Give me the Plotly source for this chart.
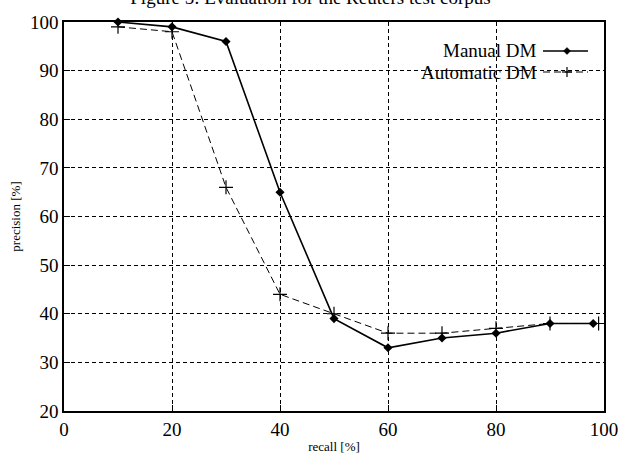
import plotly.graph_objects as go

recall_manual = [10, 20, 30, 40, 50, 60, 70, 80, 90, 98]
precision_manual = [100, 99, 96, 65, 39, 33, 35, 36, 38, 38]
recall_auto = [10, 20, 30, 40, 50, 60, 70, 80, 90, 99]
precision_auto = [99, 98, 66, 44, 40, 36, 36, 37, 38, 38]
series_names = ["Manual DM", "Automatic DM"]
x_ticks = [0, 20, 40, 60, 80, 100]
y_ticks = [20, 30, 40, 50, 60, 70, 80, 90, 100]
title_text = "Figure 5: Evaluation for the Reuters test corpus"

FONT = "Liberation Serif, Times New Roman, serif"

fig = go.Figure()
fig.add_trace(go.Scatter(
    x=recall_manual, y=precision_manual, mode="lines+markers", name=series_names[0],
    line=dict(color="black", width=1.6),
    marker=dict(symbol="diamond", size=7, color="black"),
    showlegend=False, cliponaxis=False))
fig.add_trace(go.Scatter(
    x=recall_auto, y=precision_auto, mode="lines+markers", name=series_names[1],
    line=dict(color="black", width=1, dash="7px,4px"),
    marker=dict(symbol="cross-thin-open", size=10, line=dict(color="black", width=1.2)),
    showlegend=False, cliponaxis=False))

axis_common = dict(
    showline=True, linecolor="black", linewidth=1.5, mirror=True,
    showgrid=True, gridcolor="black", gridwidth=1.3, griddash="4px,3px",
    ticks="inside", ticklen=6, tickcolor="black", zeroline=False, automargin=False,
    tickfont=dict(family=FONT, size=19, color="black"),
)
fig.update_xaxes(range=[0, 100], tickvals=x_ticks, **axis_common,
                 title=dict(text="recall [%]", font=dict(family=FONT, size=13, color="black"), standoff=3))
fig.update_yaxes(range=[20, 100], tickvals=y_ticks, **axis_common,
                 title=dict(text="precision [%]", font=dict(family=FONT, size=13, color="black"), standoff=6))

# custom gnuplot-style legend (text right, sample to the right)
px_w, px_h = 540.0, 389.0
def px_x(p):
    return (p - 64) / px_w
def px_y(p):
    return (411 - p) / px_h

rows = [(51, series_names[0], "solid"), (72, series_names[1], "dash")]
shapes = []
annotations = []
for yy, name, style in rows:
    annotations.append(dict(xref="paper", yref="paper", x=px_x(539), y=px_y(yy),
                            xanchor="right", yanchor="middle", text=name, showarrow=False,
                            font=dict(family=FONT, size=19, color="black")))
    shapes.append(dict(type="line", xref="paper", yref="paper",
                       x0=px_x(543), x1=px_x(588), y0=px_y(yy), y1=px_y(yy),
                       line=dict(color="black", width=1.6 if style == "solid" else 1,
                                 dash="solid" if style == "solid" else "7px,4px")))
    cx, cy = px_x(567), px_y(yy)
    if style == "solid":
        dx, dy = 3.5 / px_w, 3.5 / px_h
        shapes.append(dict(type="path", xref="paper", yref="paper",
                           path=f"M {cx-dx},{cy} L {cx},{cy+dy} L {cx+dx},{cy} L {cx},{cy-dy} Z",
                           fillcolor="black", line=dict(color="black", width=0.5)))
    else:
        dx, dy = 5 / px_w, 5 / px_h
        shapes.append(dict(type="line", xref="paper", yref="paper", x0=cx-dx, x1=cx+dx, y0=cy, y1=cy,
                           line=dict(color="black", width=1.2)))
        shapes.append(dict(type="line", xref="paper", yref="paper", x0=cx, x1=cx, y0=cy-dy, y1=cy+dy,
                           line=dict(color="black", width=1.2)))

fig.update_layout(
    width=621, height=457,
    margin=dict(l=64, r=17, t=22, b=46, pad=0),
    plot_bgcolor="white", paper_bgcolor="white",
    title=dict(text=title_text, x=0.5, xanchor="center", y=1 - 4 / 457, yanchor="bottom",
               font=dict(family=FONT, size=19, color="black")),
    shapes=shapes, annotations=annotations,
)

fig.write_html("out.html", config={"displayModeBar": False},
               post_script="document.body.style.margin='0';document.body.style.overflow='hidden';")
